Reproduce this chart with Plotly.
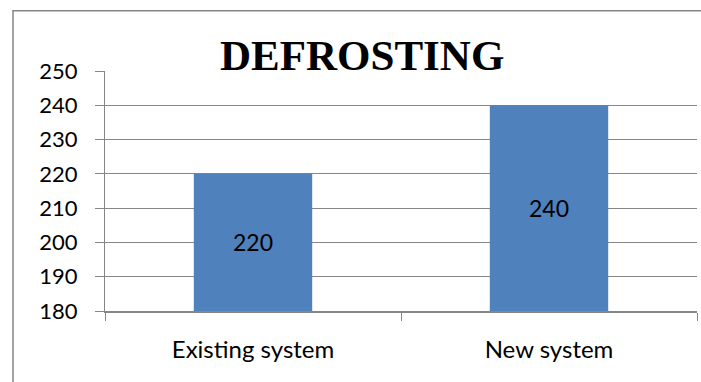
import plotly.graph_objects as go

categories = ["Existing system", "New system"]
values = [220, 240]
value_labels = ["220", "240"]
y_ticks = [180, 190, 200, 210, 220, 230, 240, 250]
title_text = "DEFROSTING"

W, H = 701, 382
L, R, T, B = 105, 4, 70.5, 71
pw = W - L - R
ph = H - T - B
axis_min = y_ticks[0]

fig = go.Figure(go.Bar(
    x=categories, y=[v - axis_min for v in values], base=axis_min,
    text=value_labels, textposition="inside", insidetextanchor="middle",
    textfont=dict(family="Lato", size=23, color="black"),
    marker=dict(color="#4F81BD", line=dict(width=0)),
    width=0.4,
    hoverinfo="skip",
))

fig.update_layout(
    width=W, height=H,
    margin=dict(l=L, r=R, t=T, b=B),
    paper_bgcolor="white", plot_bgcolor="white",
    showlegend=False,
    font=dict(family="Lato", size=22, color="black"),
    uniformtext=dict(minsize=8, mode="show"),
    xaxis=dict(
        showgrid=False, showline=True, linecolor="#868686", linewidth=2,
        ticks="outside", tickson="boundaries", ticklen=8, tickcolor="#868686", tickwidth=1,
        tickfont=dict(family="Lato", size=24, color="black"),
        ticklabelstandoff=16,
        range=[-0.5, 1.5],
    ),
    yaxis=dict(
        range=[180, 250], tickvals=y_ticks,
        showgrid=True, gridcolor="#868686", gridwidth=1,
        showline=True, linecolor="#868686", linewidth=1,
        ticks="outside", ticklen=9, tickcolor="#868686",
        tickfont=dict(family="Lato", size=22, color="black"),
        ticklabelstandoff=13,
        zeroline=False,
    ),
    annotations=[dict(
        text="<b>" + title_text + "</b>",
        xref="paper", yref="paper",
        x=(362 - L) / pw, y=1 + (T - 70) / ph,
        xanchor="center", yanchor="bottom",
        showarrow=False,
        font=dict(family="Liberation Serif", size=43, color="black"),
        yshift=-10,
    )],
    shapes=[dict(
        type="rect", xref="paper", yref="paper",
        x0=(13 - L) / pw, x1=(720 - L) / pw,
        y0=1 - (400 - T) / ph, y1=1 + (T - 10) / ph,
        line=dict(color="#868686", width=1.5), layer="below",
    )],
)

fig.write_html("out.html")
